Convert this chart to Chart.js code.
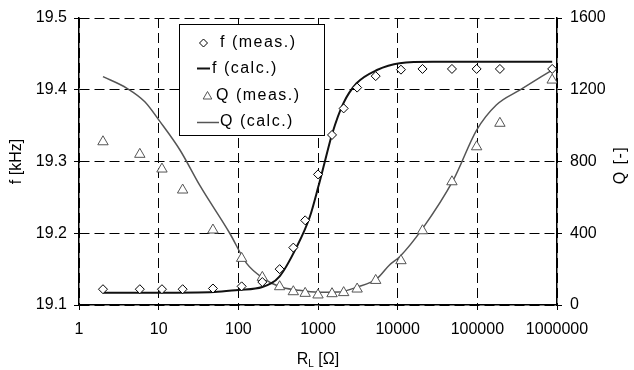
<!DOCTYPE html>
<html>
<head>
<meta charset="utf-8">
<script src="https://cdn.jsdelivr.net/npm/chart.js@4/dist/chart.umd.min.js"></script>
<style>
body { margin: 0; background: #fff; }
</style>
</head>
<body>
<canvas id="chart" width="634" height="370"></canvas>
<script>
// measured points, load resistance in ohm
const rMeas = [2, 5.8, 11, 20, 48, 110, 200, 330, 490, 690, 1000, 1500, 2100, 3100, 5300, 11000, 20500, 48000, 98000, 192000, 870000];
const fMeas = [19.122, 19.122, 19.122, 19.122, 19.123, 19.126, 19.132, 19.150, 19.180, 19.218, 19.282, 19.337, 19.374, 19.403, 19.419, 19.428, 19.429, 19.429, 19.429, 19.429, 19.429];
const qMeas = [910, 840, 758, 641, 418, 260, 154, 102, 74, 65, 56, 63, 69, 89, 137, 247, 414, 687, 882, 1013, 1254];

// calculated curves
const rCalcF = [2, 10, 50, 100, 200, 330, 540, 790, 1010, 1220, 1510, 2080, 3050, 5500, 10600, 28000, 870000];
const fCalc = [19.117, 19.117, 19.118, 19.121, 19.125, 19.140, 19.181, 19.223, 19.265, 19.300, 19.339, 19.381, 19.409, 19.4275, 19.437, 19.439, 19.439];
const rCalcQ = [2, 4, 6.7, 10.4, 18.5, 33, 78, 127, 206, 333, 540, 1010, 1800, 3050, 5500, 7900, 10600, 20600, 50000, 98000, 173000, 340000, 870000];
const qCalc = [1273, 1208, 1133, 1022, 864, 665, 400, 232, 149, 102, 84, 71, 72, 99, 147, 223, 269, 427, 697, 975, 1115, 1198, 1310];

const xTicks = [1, 10, 100, 1000, 10000, 100000, 1000000];

const FONT = 'Liberation Sans, Arial, sans-serif';

function pts(xs, ys) {
    return xs.map((x, i) => ({ x: x, y: ys[i] }));
}

// excel style legend box inside the plot
const boxLegend = {
    id: 'boxLegend',
    afterDraw(chart) {
        const ctx = chart.ctx;
        const ds = chart.data.datasets;
        ctx.save();
        ctx.fillStyle = '#fff';
        ctx.fillRect(179.5, 24.5, 145, 111);
        ctx.strokeStyle = '#000';
        ctx.lineWidth = 1;
        ctx.strokeRect(179.5, 24.5, 145, 111);

        ctx.font = '16px ' + FONT;
        ctx.letterSpacing = '1.5px';
        ctx.textBaseline = 'middle';
        ctx.fillStyle = '#000';

        // f (meas.)
        ctx.strokeStyle = ds[0].borderColor;
        ctx.fillStyle = '#fff';
        Chart.helpers.drawPoint(ctx, { pointStyle: 'rectRot', radius: 4, rotation: 0, borderWidth: 1 }, 203.5, 43);
        ctx.fillStyle = '#000';
        ctx.fillText(ds[0].label, 220, 43);

        // f (calc.)
        ctx.strokeStyle = ds[1].borderColor;
        ctx.lineWidth = 2;
        ctx.beginPath(); ctx.moveTo(197, 68.5); ctx.lineTo(210, 68.5); ctx.stroke();
        ctx.fillText(ds[1].label, 212, 69);

        // Q (meas.)
        ctx.lineWidth = 1;
        ctx.strokeStyle = ds[2].borderColor;
        ctx.fillStyle = '#fff';
        Chart.helpers.drawPoint(ctx, { pointStyle: 'triangle', radius: 5, rotation: 0, borderWidth: 1 }, 207.5, 96.5);
        ctx.fillStyle = '#000';
        ctx.fillText(ds[2].label, 216, 96);

        // Q (calc.)
        ctx.strokeStyle = ds[3].borderColor;
        ctx.lineWidth = 1.5;
        ctx.beginPath(); ctx.moveTo(197, 122.5); ctx.lineTo(219, 122.5); ctx.stroke();
        ctx.fillText(ds[3].label, 220, 122);
        ctx.restore();
    }
};

// right axis title (reads bottom to top) and x title with subscript
const extraTitles = {
    id: 'extraTitles',
    afterDraw(chart) {
        const ctx = chart.ctx;
        ctx.save();
        ctx.fillStyle = '#000';
        ctx.font = '16px ' + FONT;
        ctx.letterSpacing = '1.5px';
        ctx.translate(621, 165);
        ctx.rotate(-Math.PI / 2);
        ctx.textAlign = 'center';
        ctx.textBaseline = 'middle';
        ctx.fillText('Q [-]', 0, 0);
        ctx.restore();

        ctx.save();
        ctx.fillStyle = '#000';
        ctx.textBaseline = 'alphabetic';
        ctx.font = '16px ' + FONT;
        const wR = ctx.measureText('R').width;
        const wRest = ctx.measureText(' [Ω]').width;
        ctx.font = '10px ' + FONT;
        const wL = ctx.measureText('L').width;
        const x0 = 318 - (wR + wL + wRest) / 2;
        ctx.font = '16px ' + FONT;
        ctx.fillText('R', x0, 364);
        ctx.fillText(' [Ω]', x0 + wR + wL, 364);
        ctx.font = '10px ' + FONT;
        ctx.fillText('L', x0 + wR, 366.5);
        ctx.restore();
    }
};

new Chart(document.getElementById('chart'), {
    type: 'scatter',
    plugins: [boxLegend, extraTitles],
    data: {
        datasets: [{
            label: 'f (meas.)',
            data: pts(rMeas, fMeas),
            yAxisID: 'y',
            pointStyle: 'rectRot',
            pointRadius: 4.5,
            borderColor: '#000',
            backgroundColor: '#fff',
            borderWidth: 1,
            showLine: false,
            order: 0
        }, {
            label: 'f (calc.)',
            data: pts(rCalcF, fCalc),
            yAxisID: 'y',
            showLine: true,
            pointRadius: 0,
            borderColor: '#111',
            borderWidth: 2,
            cubicInterpolationMode: 'monotone',
            order: 2
        }, {
            label: 'Q (meas.)',
            data: pts(rMeas, qMeas),
            yAxisID: 'y2',
            pointStyle: 'triangle',
            pointRadius: 6,
            borderColor: '#555',
            backgroundColor: '#fff',
            borderWidth: 1,
            showLine: false,
            order: 1
        }, {
            label: 'Q (calc.)',
            data: pts(rCalcQ, qCalc),
            yAxisID: 'y2',
            showLine: true,
            pointRadius: 0,
            borderColor: '#555',
            borderWidth: 1.5,
            cubicInterpolationMode: 'monotone',
            order: 3
        }]
    },
    options: {
        responsive: false,
        animation: false,
        layout: { padding: { top: 18, left: 0, right: 0, bottom: 0 } },
        plugins: {
            legend: { display: false },
            tooltip: { enabled: false }
        },
        scales: {
            x: {
                type: 'logarithmic',
                min: 1,
                max: 1000000,
                afterBuildTicks: (axis) => { axis.ticks = xTicks.map(v => ({ value: v })); },
                afterFit: (axis) => { axis.height = 65; },
                ticks: {
                    color: '#000',
                    font: { family: FONT, size: 16 },
                    padding: 10,
                    maxRotation: 0,
                    autoSkip: false,
                    callback: (v) => String(v)
                },
                grid: { color: '#000', lineWidth: 1, tickLength: 5 },
                border: { color: '#000', width: 1.5, dash: [10, 5] }
            },
            y: {
                position: 'left',
                min: 19.1,
                max: 19.5,
                afterFit: (axis) => { axis.width = 79; },
                ticks: {
                    stepSize: 0.1,
                    color: '#000',
                    font: { family: FONT, size: 16 },
                    padding: 7,
                    callback: (v) => v.toFixed(1)
                },
                grid: { color: '#000', lineWidth: 1, tickLength: 5 },
                border: { color: '#000', width: 1.5, dash: [10, 5] },
                title: {
                    display: true,
                    text: 'f [kHz]',
                    color: '#000',
                    font: { family: FONT, size: 16 },
                    padding: { top: 7, bottom: 0 }
                }
            },
            y2: {
                position: 'right',
                min: 0,
                max: 1600,
                afterFit: (axis) => { axis.width = 77; },
                ticks: {
                    stepSize: 400,
                    color: '#000',
                    font: { family: FONT, size: 16 },
                    padding: 8,
                    callback: (v) => String(v)
                },
                grid: { drawOnChartArea: false, color: '#000', tickLength: 5 },
                border: { color: '#000', width: 1.5 }
            }
        }
    }
});
</script>
</body>
</html>
